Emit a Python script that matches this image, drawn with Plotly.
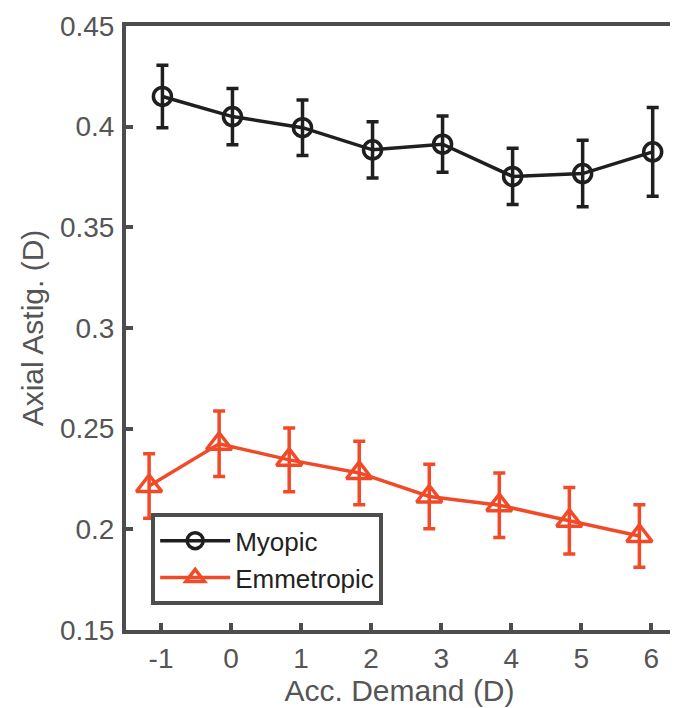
import plotly.graph_objects as go

acc_demand = [-1, 0, 1, 2, 3, 4, 5, 6]
myopic_mean = [0.415, 0.405, 0.3995, 0.3885, 0.3913, 0.3753, 0.3767, 0.3875]
myopic_err = [0.0155, 0.014, 0.0138, 0.014, 0.014, 0.014, 0.0165, 0.022]
emm_mean = [0.2215, 0.2425, 0.2345, 0.228, 0.2163, 0.212, 0.2043, 0.1967]
emm_err = [0.016, 0.0163, 0.0158, 0.0158, 0.016, 0.016, 0.0165, 0.0155]
myopic_offset = 0.02
emm_offset = -0.17

x_ticks = [-1, 0, 1, 2, 3, 4, 5, 6]
x_ticktext = ["-1", "0", "1", "2", "3", "4", "5", "6"]
y_ticks = [0.15, 0.2, 0.25, 0.3, 0.35, 0.4, 0.45]
y_ticktext = ["0.15", "0.2", "0.25", "0.3", "0.35", "0.4", "0.45"]

black = "#1f1f1f"
red = "#f04a28"
axis_col = "#4d4d4d"
text_col = "#555555"
font_family = "Liberation Sans, Arial, sans-serif"

fig = go.Figure()
fig.add_trace(go.Scatter(
    x=[v + myopic_offset for v in acc_demand], y=myopic_mean, name="Myopic",
    mode="lines+markers",
    line=dict(color=black, width=3.5),
    marker=dict(symbol="circle-open", size=18, color=black, line=dict(width=3.5, color=black)),
    error_y=dict(type="data", array=myopic_err, color=black, thickness=3.5, width=6),
))
fig.add_trace(go.Scatter(
    x=[v + emm_offset for v in acc_demand], y=emm_mean, name="Emmetropic",
    mode="lines+markers",
    line=dict(color=red, width=3.5),
    marker=dict(symbol="triangle-up-open", size=22, color=red, line=dict(width=3.5, color=red)),
    error_y=dict(type="data", array=emm_err, color=red, thickness=3.5, width=6),
))

fig.update_layout(
    width=678, height=708,
    margin=dict(l=118, r=13, t=18, b=86),
    plot_bgcolor="white", paper_bgcolor="white",
    font=dict(family=font_family, size=28, color=text_col),
    showlegend=True,
    legend=dict(
        x=0.046, y=0.041, xanchor="left", yanchor="bottom",
        bgcolor="white", bordercolor=axis_col, borderwidth=4,
        font=dict(family=font_family, size=26, color="#222222"),
        itemwidth=70, tracegroupgap=0,
    ),
    xaxis=dict(
        range=[-1.5, 6.31], tickvals=x_ticks, ticktext=x_ticktext,
        showgrid=False, zeroline=False, automargin=False,
        showline=True, linecolor=axis_col, linewidth=4, mirror=True,
        ticks="inside", ticklen=7, tickwidth=4, tickcolor=axis_col,
        tickfont=dict(size=28, color=text_col),
        title=dict(text="Acc. Demand (D)", font=dict(size=30, color=text_col), standoff=6),
    ),
    yaxis=dict(
        range=[0.15, 0.45], tickvals=y_ticks, ticktext=y_ticktext,
        showgrid=False, zeroline=False, automargin=False,
        showline=True, linecolor=axis_col, linewidth=4, mirror=True,
        ticks="inside", ticklen=7, tickwidth=4, tickcolor=axis_col,
        tickfont=dict(size=28, color=text_col), ticklabelstandoff=2,
        title=dict(text="Axial Astig. (D)", font=dict(size=30, color=text_col), standoff=8),
    ),
)

fig.write_html("out.html")
